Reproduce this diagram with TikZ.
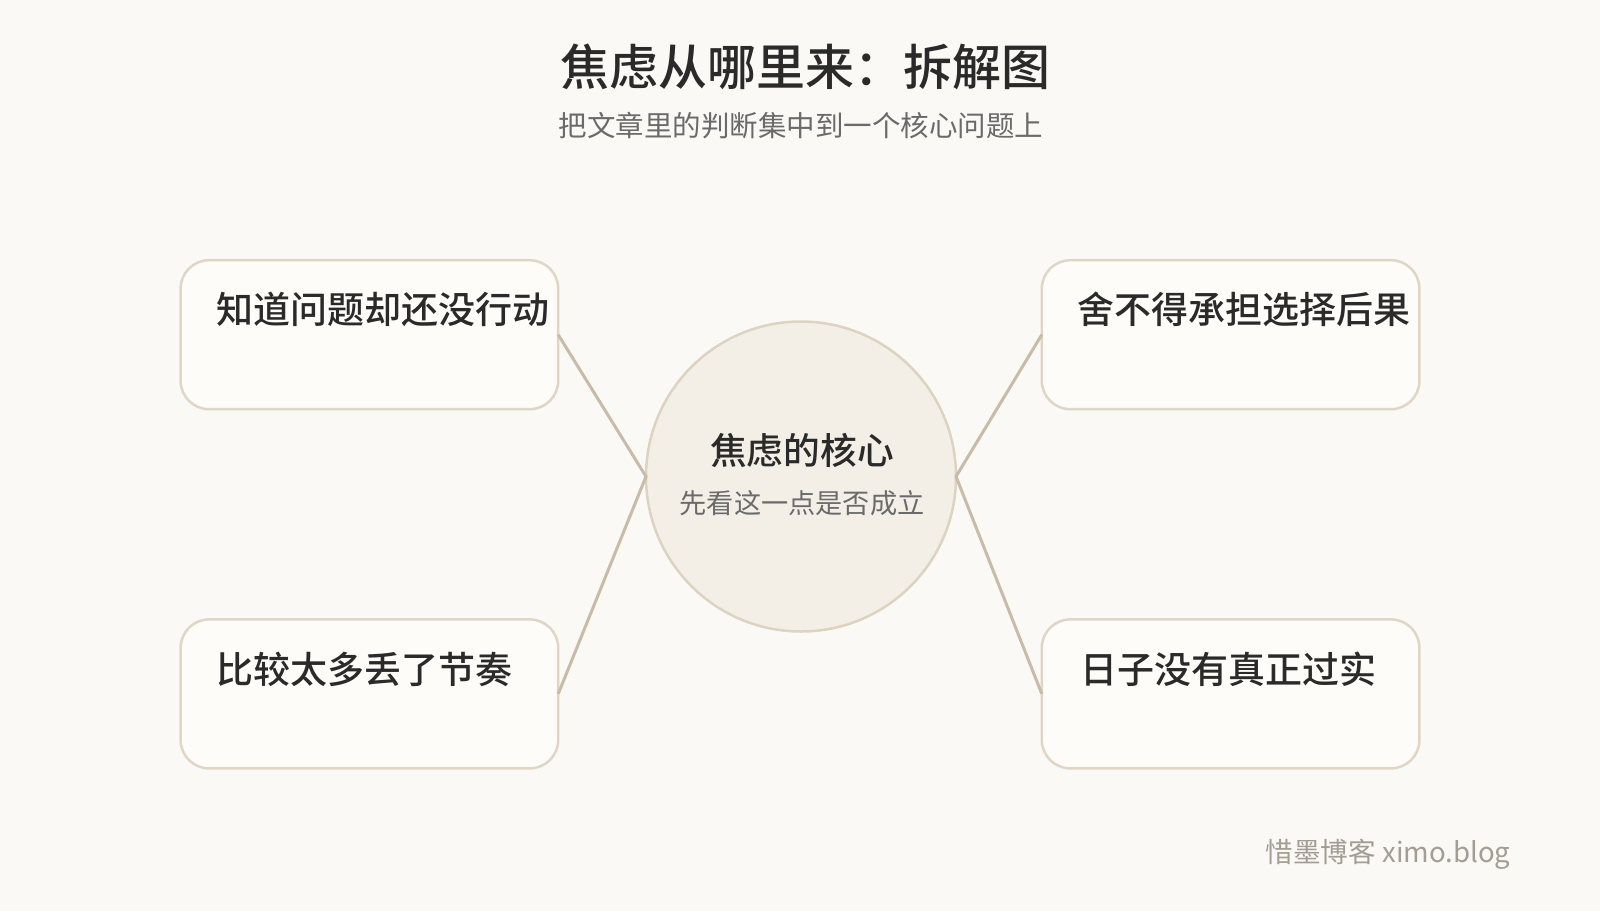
\documentclass[tikz,border=0pt]{standalone}
\usepackage{fontspec}
\setmainfont{Noto Sans CJK SC}[BoldFont={Noto Sans CJK SC Medium}]
\definecolor{bg}{HTML}{FAF9F6}
\definecolor{boxfill}{HTML}{FDFCF9}
\definecolor{boxline}{HTML}{E0D6C6}
\definecolor{circfill}{HTML}{F3EFE7}
\definecolor{circline}{HTML}{DDD3C1}
\definecolor{conn}{HTML}{C8BCA8}
\definecolor{ink}{HTML}{2A2A2A}
\definecolor{sub}{HTML}{6A6A6A}
\definecolor{wmark}{HTML}{A39D92}
\tikzset{
  itembox/.style={draw=boxline, line width=2.5pt, fill=boxfill, rounded corners=28.5pt},
  itemtext/.style={anchor=west, inner sep=0pt, text=ink, font=\fontsize{37}{42}\selectfont\bfseries},
  conline/.style={draw=conn, line width=3pt},
}
\begin{document}
\begin{tikzpicture}[x=1pt,y=-1pt]
\useasboundingbox[fill=bg] (0,0) rectangle (1600,911);
\node[text=ink, font=\fontsize{49}{55}\selectfont\bfseries] (title) at (805,66.5) {焦虑从哪里来：拆解图};
\node[text=sub, font=\fontsize{28.5}{32}\selectfont] (subtitle) at (801,125.5) {把文章里的判断集中到一个核心问题上};
% boxes
\draw[itembox] (180.6,260.2) rectangle (558.2,409.2);
\draw[itembox] (180.6,619.4) rectangle (558.2,768.4);
\draw[itembox] (1041.8,260.2) rectangle (1419.4,409.2);
\draw[itembox] (1041.8,619.4) rectangle (1419.4,768.4);
\coordinate (lt) at (558.2,334.7);
\coordinate (lb) at (558.2,693.9);
\coordinate (rt) at (1041.8,334.7);
\coordinate (rb) at (1041.8,693.9);
\node[itemtext] (t1) at (216.3,309.2) {知道问题却还没行动};
\node[itemtext] (t2) at (216.3,669) {比较太多丢了节奏};
\node[itemtext] (t3) at (1077.6,309.2) {舍不得承担选择后果};
\node[itemtext] (t4) at (1080.5,669) {日子没有真正过实};
% circle
\node[circle, draw=circline, line width=2.5pt, fill=circfill, minimum size=310pt, inner sep=0pt] (core) at (801,476.5) {};
\coordinate (cl) at (646,476.5);
\coordinate (cr) at (956,476.5);
\draw[conline] (lt) -- (cl) -- (lb);
\draw[conline] (rt) -- (cr) -- (rb);
\node[text=ink, font=\fontsize{36.7}{42}\selectfont\bfseries] (ct) at (802,450) {焦虑的核心};
\node[text=sub, font=\fontsize{27.2}{31}\selectfont] (cs) at (802,503) {先看这一点是否成立};
\node[text=wmark, font=\fontsize{27.6}{31}\selectfont, anchor=east] (wm) at (1514,854) {惜墨博客 ximo.blog};
\end{tikzpicture}
\end{document}
